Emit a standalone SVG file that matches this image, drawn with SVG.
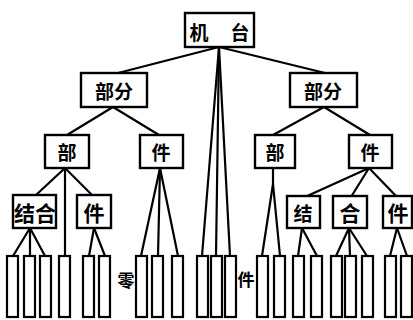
<svg xmlns="http://www.w3.org/2000/svg" width="413" height="320" viewBox="0 0 413 320">
<style>
.box{fill:#fff;stroke:#000;stroke-width:2.4}
.bar{fill:#fff;stroke:#000;stroke-width:2.2}
.ln{stroke:#000;stroke-width:2.2;fill:none;stroke-linecap:round}
text{font-family:"Noto Sans CJK SC","Noto Sans CJK TC",sans-serif;font-weight:bold;fill:#000;text-anchor:middle;dominant-baseline:central}
.t18{font-size:19px}
.t20{font-size:21px}
.t16{font-size:17px}
</style>
<rect width="413" height="320" fill="#fff"/>
<g id="connectors">
<line class="ln" x1="219" y1="47" x2="118" y2="73"/>
<line class="ln" x1="219" y1="47" x2="325" y2="73"/>
<line class="ln" x1="219" y1="47" x2="202" y2="256" stroke-width="2.6"/>
<line class="ln" x1="219" y1="47" x2="216" y2="256" stroke-width="2.6"/>
<line class="ln" x1="219" y1="47" x2="230" y2="256" stroke-width="2.6"/>
<line class="ln" x1="113" y1="107" x2="67" y2="135"/>
<line class="ln" x1="113" y1="107" x2="159" y2="135"/>
<line class="ln" x1="324" y1="107" x2="273" y2="135"/>
<line class="ln" x1="324" y1="107" x2="370" y2="135"/>
<line class="ln" x1="65" y1="168" x2="36" y2="195"/>
<line class="ln" x1="65" y1="168" x2="65" y2="256"/>
<line class="ln" x1="65" y1="168" x2="92" y2="195"/>
<line class="ln" x1="160" y1="168" x2="141" y2="256"/>
<line class="ln" x1="160" y1="168" x2="158" y2="256"/>
<line class="ln" x1="160" y1="168" x2="178" y2="256"/>
<line class="ln" x1="273" y1="168" x2="273" y2="184"/>
<line class="ln" x1="273" y1="184" x2="262" y2="256"/>
<line class="ln" x1="273" y1="184" x2="280" y2="256"/>
<line class="ln" x1="369" y1="168" x2="305" y2="197"/>
<line class="ln" x1="369" y1="168" x2="351" y2="197"/>
<line class="ln" x1="369" y1="168" x2="397" y2="197"/>
<line class="ln" x1="30" y1="228" x2="13" y2="256"/>
<line class="ln" x1="30" y1="228" x2="30" y2="256"/>
<line class="ln" x1="30" y1="228" x2="45" y2="256"/>
<line class="ln" x1="94" y1="228" x2="89" y2="256"/>
<line class="ln" x1="94" y1="228" x2="105" y2="256"/>
<line class="ln" x1="302" y1="228" x2="298" y2="256"/>
<line class="ln" x1="302" y1="228" x2="317" y2="256"/>
<line class="ln" x1="349" y1="228" x2="336" y2="256"/>
<line class="ln" x1="349" y1="228" x2="350" y2="256"/>
<line class="ln" x1="349" y1="228" x2="367" y2="256"/>
<line class="ln" x1="397" y1="228" x2="390" y2="256"/>
<line class="ln" x1="397" y1="228" x2="407" y2="256"/>
</g>
<g id="n-jitai"><rect class="box" x="185" y="13" width="69" height="34"/><text class="t18" x="199" y="31">机</text><text class="t18" x="240" y="31">台</text></g>
<g id="n-bufen-l"><rect class="box" x="81" y="73" width="66" height="34"/><text class="t18" x="114" y="90">部分</text></g>
<g id="n-bufen-r"><rect class="box" x="290" y="73" width="67" height="34"/><text class="t18" x="323" y="90">部分</text></g>
<g id="n-bu-l"><rect class="box" x="45" y="135" width="44" height="33"/><text class="t18" x="67" y="151">部</text></g>
<g id="n-jian-l"><rect class="box" x="140" y="135" width="43" height="33"/><text class="t18" x="161" y="151">件</text></g>
<g id="n-bu-r"><rect class="box" x="255" y="135" width="40" height="33"/><text class="t18" x="275" y="151">部</text></g>
<g id="n-jian-r"><rect class="box" x="349" y="135" width="43" height="33"/><text class="t18" x="370" y="151">件</text></g>
<g id="n-jiehe"><rect class="box" x="13" y="195" width="43" height="33"/><text class="t20" x="35" y="212">结合</text></g>
<g id="n-jian-l4"><rect class="box" x="77" y="195" width="34" height="33"/><text class="t20" x="94" y="212">件</text></g>
<g id="n-jie"><rect class="box" x="287" y="196" width="33" height="32"/><text class="t18" x="303" y="212">结</text></g>
<g id="n-he"><rect class="box" x="333" y="196" width="34" height="32"/><text class="t20" x="350" y="212">合</text></g>
<g id="n-jian-r4"><rect class="box" x="383" y="196" width="29" height="32"/><text class="t20" x="398" y="212">件</text></g>
<g id="parts">
<rect class="bar" x="7" y="256" width="11" height="61"/>
<rect class="bar" x="24" y="256" width="11" height="61"/>
<rect class="bar" x="40" y="256" width="11" height="61"/>
<rect class="bar" x="59" y="256" width="11" height="61"/>
<rect class="bar" x="83" y="256" width="11" height="61"/>
<rect class="bar" x="99" y="256" width="11" height="61"/>
<rect class="bar" x="136" y="256" width="11" height="61"/>
<rect class="bar" x="152" y="256" width="11" height="61"/>
<rect class="bar" x="172" y="256" width="11" height="61"/>
<rect class="bar" x="197" y="256" width="11" height="61"/>
<rect class="bar" x="211" y="256" width="11" height="61"/>
<rect class="bar" x="225" y="256" width="11" height="61"/>
<rect class="bar" x="257" y="256" width="11" height="61"/>
<rect class="bar" x="274" y="256" width="11" height="61"/>
<rect class="bar" x="293" y="256" width="11" height="61"/>
<rect class="bar" x="311" y="256" width="11" height="61"/>
<rect class="bar" x="331" y="256" width="11" height="61"/>
<rect class="bar" x="345" y="256" width="11" height="61"/>
<rect class="bar" x="362" y="256" width="11" height="61"/>
<rect class="bar" x="385" y="256" width="11" height="61"/>
<rect class="bar" x="401" y="256" width="11" height="61"/>
</g>
<g id="label-lingjian"><text class="t16" x="126" y="279">零</text><text class="t16" x="246" y="278">件</text></g>
</svg>
